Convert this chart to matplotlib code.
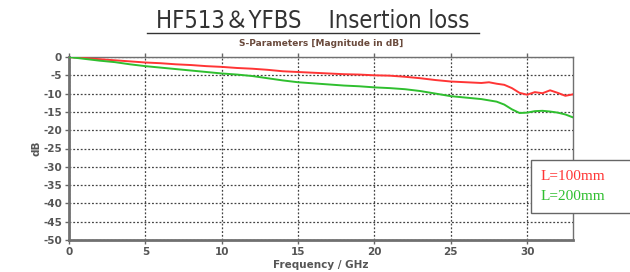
import matplotlib
matplotlib.use("Agg")
import matplotlib.pyplot as plt
from matplotlib.patches import Rectangle
from matplotlib.lines import Line2D

# frequency points (GHz) and insertion loss (dB)
freq_100 = [0, 1, 2, 3, 4, 5, 6, 7, 8, 9, 10, 11, 12, 13, 14, 15, 16, 17, 18,
            19, 20, 21, 22, 23, 24, 25, 26, 27, 27.5, 28, 28.5, 29, 29.5, 30,
            30.5, 31, 31.5, 32, 32.5, 33]
loss_100 = [0, -0.3, -0.6, -0.9, -1.2, -1.5, -1.7, -2.0, -2.2, -2.5, -2.7, -3.0,
            -3.2, -3.5, -3.9, -4.1, -4.3, -4.5, -4.7, -4.8, -5.0, -5.1, -5.4,
            -5.8, -6.3, -6.7, -6.9, -7.1, -6.9, -7.3, -7.6, -8.5, -9.8, -10.3,
            -9.6, -9.9, -9.1, -9.8, -10.6, -10.2]

freq_200 = [0, 1, 2, 3, 4, 5, 6, 7, 8, 9, 10, 11, 12, 13, 14, 15, 16, 17, 18,
            19, 20, 21, 22, 23, 24, 25, 26, 27, 28, 28.5, 29, 29.5, 30, 30.5,
            31, 31.5, 32, 32.5, 33]
loss_200 = [0, -0.5, -1.0, -1.4, -2.0, -2.5, -2.9, -3.3, -3.7, -4.1, -4.5,
            -4.8, -5.2, -5.8, -6.4, -6.9, -7.2, -7.5, -7.8, -8.0, -8.3, -8.5,
            -8.8, -9.3, -10.0, -10.7, -11.1, -11.5, -12.2, -13.0, -14.3, -15.3,
            -15.2, -14.8, -14.7, -14.9, -15.2, -15.7, -16.5]

labels = ["L=100mm", "L=200mm"]
red = "#ff3535"
green = "#2fbf2f"

fig = plt.figure(figsize=(6.3, 2.72), dpi=100, facecolor="white")
ax = fig.add_axes([69 / 630, 1 - 240 / 272, 504 / 630, 183 / 272])

ax.plot(freq_100, loss_100, color=red, lw=1.4, zorder=3)
ax.plot(freq_200, loss_200, color=green, lw=1.4, zorder=3)

ax.set_xlim(0, 33)
ax.set_ylim(-50, 0)
ax.set_xticks(range(0, 31, 5))
ax.set_yticks(range(-50, 1, 5))
ax.grid(True, color="#444444", linestyle=(0, (1.5, 1.5)), linewidth=0.9)

tick_font = dict(family="DejaVu Sans", size=7.5, weight="bold")
ax.set_xticklabels([str(v) for v in range(0, 31, 5)], color="#555555", **tick_font)
ax.set_yticklabels([str(v) for v in range(-50, 1, 5)], color="#555555", **tick_font)
ax.tick_params(axis="both", direction="out", length=3, width=1, color="#666666",
               pad=2, top=True)

for side in ["left", "bottom"]:
    ax.spines[side].set_color("#707070")
    ax.spines[side].set_linewidth(2)
for side in ["top", "right"]:
    ax.spines[side].set_color("#707070")
    ax.spines[side].set_linewidth(1)

ax.set_xlabel("Frequency / GHz", fontsize=7.5, fontweight="bold",
              color="#555555", labelpad=2)
ax.set_ylabel("dB", fontsize=7.5, fontweight="bold", color="#555555",
              labelpad=1)

# titles
fig.text(0.497, 1 - 21 / 272, "HF513\uff06YFBS    Insertion loss",
         ha="center", va="center", fontsize=17, color="#333333",
         family=["DejaVu Sans", "Noto Sans CJK JP"], stretch="condensed")
fig.add_artist(Line2D([147 / 630, 479 / 630], [1 - 33 / 272, 1 - 33 / 272],
                      color="#333333", lw=1))
fig.text(0.51, 1 - 44 / 272, "S-Parameters [Magnitude in dB]", ha="center",
         va="center", fontsize=6.5, fontweight="bold", color="#6a4a3c")

# legend box, running past the right edge of the figure
fig.add_artist(Rectangle((531 / 630, 1 - 213 / 272), 120 / 630, 53 / 272,
                         transform=fig.transFigure, facecolor="white",
                         edgecolor="#666666", lw=1))
fig.text(541 / 630, 1 - 177 / 272, labels[0], ha="left", va="center",
         fontsize=11, color=red, family="Liberation Serif")
fig.text(541 / 630, 1 - 197 / 272, labels[1], ha="left", va="center",
         fontsize=11, color=green, family="Liberation Serif")

fig.savefig("out.png", dpi=100, facecolor="white")
